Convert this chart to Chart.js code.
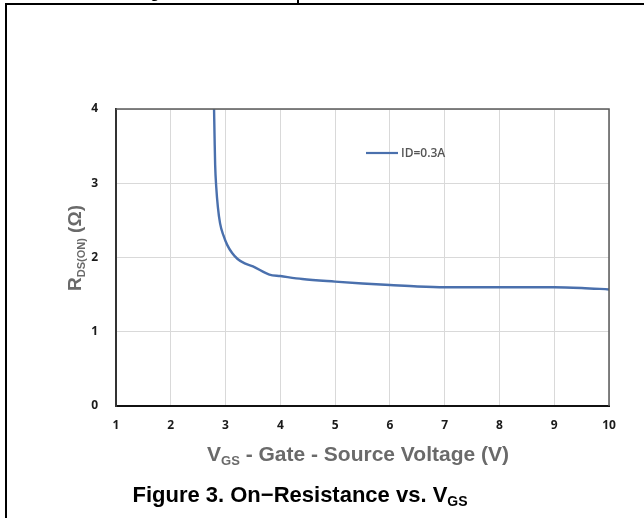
<!DOCTYPE html>
<html>
<head>
<meta charset="utf-8">
<script src="https://cdn.jsdelivr.net/npm/chart.js@4.4.1/dist/chart.umd.min.js"></script>
<style>
  html, body { margin: 0; padding: 0; background: #fff; }
  #wrap { position: relative; width: 644px; height: 518px; }
</style>
</head>
<body>
<div id="wrap"><canvas id="c" width="644" height="518"></canvas></div>
<script>
// On-resistance curve, ID = 0.3 A
const seriesLabel = 'ID=0.3A';
const vgs = [2.79, 2.80, 2.81, 2.83, 2.86, 2.90, 2.96, 3.03, 3.12, 3.22, 3.35, 3.5, 3.8, 4.0, 4.4, 5.0, 5.5, 6.0, 6.5, 7.0, 8.0, 9.0, 9.5, 10.0];
const rdsOn = [4.0, 3.6, 3.25, 2.95, 2.68, 2.46, 2.3, 2.17, 2.06, 1.98, 1.92, 1.88, 1.77, 1.75, 1.71, 1.675, 1.65, 1.63, 1.61, 1.60, 1.60, 1.60, 1.59, 1.57];
const xTicks = [1, 2, 3, 4, 5, 6, 7, 8, 9, 10];
const yTicks = [0, 1, 2, 3, 4];

const points = vgs.map((v, i) => ({ x: v, y: rdsOn[i] }));

const LINE_COLOR = '#4a70ad';

// Page frame, axis titles, caption and legend drawn around the plot
const decor = {
  id: 'decor',
  beforeDraw(chart) {
    const ctx = chart.ctx;
    ctx.save();
    ctx.fillStyle = '#fff';
    ctx.fillRect(0, 0, chart.width, chart.height);
    ctx.restore();
  },
  afterDraw(chart) {
    const ctx = chart.ctx;
    const a = chart.chartArea;
    ctx.save();

    // frame lines of the page
    ctx.fillStyle = '#000';
    ctx.fillRect(5, 3, 639, 2);
    ctx.fillRect(5, 3, 2, 515);
    ctx.fillRect(297, 0, 2, 4);
    ctx.font = 'bold 16px "Liberation Sans", Arial, sans-serif';
    ctx.textBaseline = 'alphabetic';
    ctx.fillText('g', 150, -2);

    // top & right plot border
    ctx.strokeStyle = '#5a5a5a';
    ctx.lineWidth = 1.5;
    ctx.beginPath();
    ctx.moveTo(a.left, a.top);
    ctx.lineTo(a.right, a.top);
    ctx.lineTo(a.right, a.bottom);
    ctx.stroke();

    // legend inside the plot
    const lx = 366, ly = 153;
    ctx.strokeStyle = LINE_COLOR;
    ctx.lineWidth = 2.2;
    ctx.beginPath();
    ctx.moveTo(lx, ly);
    ctx.lineTo(lx + 32, ly);
    ctx.stroke();
    ctx.fillStyle = '#555';
    ctx.font = '600 12px "Open Sans", sans-serif';
    ctx.textBaseline = 'middle';
    ctx.textAlign = 'left';
    ctx.fillText(seriesLabel, lx + 35, ly + 1);

    // x axis title with subscript
    const gray = '#6a6a6a';
    ctx.fillStyle = gray;
    ctx.textBaseline = 'alphabetic';
    const big = 'bold 21px "Liberation Sans", Arial, sans-serif';
    const small = 'bold 13px "Liberation Sans", Arial, sans-serif';
    const p1 = 'V', p2 = 'GS', p3 = ' - Gate - Source Voltage (V)';
    ctx.font = big; const w1 = ctx.measureText(p1).width; const w3 = ctx.measureText(p3).width;
    ctx.font = small; const w2 = ctx.measureText(p2).width;
    let x0 = 358 - (w1 + w2 + w3) / 2;
    const by = 461;
    ctx.font = big; ctx.fillText(p1, x0, by);
    ctx.font = small; ctx.fillText(p2, x0 + w1, by + 4);
    ctx.font = big; ctx.fillText(p3, x0 + w1 + w2, by);

    // y axis title, rotated, with subscript
    ctx.save();
    ctx.translate(81, 248);
    ctx.rotate(-Math.PI / 2);
    const bigY = 'bold 19px "Liberation Sans", Arial, sans-serif';
    const smallY = 'bold 11px "Liberation Sans", Arial, sans-serif';
    const q1 = 'R', q2 = 'DS(ON)', q3 = ' (Ω)';
    ctx.font = bigY; const v1 = ctx.measureText(q1).width; const v3 = ctx.measureText(q3).width;
    ctx.font = smallY; const v2 = ctx.measureText(q2).width;
    let y0 = -(v1 + v2 + v3) / 2;
    ctx.font = bigY; ctx.fillText(q1, y0, 0);
    ctx.font = smallY; ctx.fillText(q2, y0 + v1, 4);
    ctx.font = bigY; ctx.fillText(q3, y0 + v1 + v2, 0);
    ctx.restore();

    // caption
    ctx.fillStyle = '#000';
    const capBig = 'bold 22px "Liberation Sans", Arial, sans-serif';
    const capSmall = 'bold 14px "Liberation Sans", Arial, sans-serif';
    const c1 = 'Figure 3. On\u2212Resistance vs. V', c2 = 'GS';
    ctx.font = capBig; const cw1 = ctx.measureText(c1).width;
    ctx.font = capSmall; const cw2 = ctx.measureText(c2).width;
    const cx0 = 300 - (cw1 + cw2) / 2;
    ctx.font = capBig; ctx.fillText(c1, cx0, 502);
    ctx.font = capSmall; ctx.fillText(c2, cx0 + cw1, 506);

    ctx.restore();
  }
};

new Chart(document.getElementById('c'), {
  type: 'line',
  data: {
    datasets: [{
      label: seriesLabel,
      data: points,
      borderColor: LINE_COLOR,
      borderWidth: 2.4,
      pointRadius: 0,
      cubicInterpolationMode: 'monotone',
      fill: false
    }]
  },
  options: {
    responsive: false,
    animation: false,
    devicePixelRatio: 1,
    layout: { padding: { top: 109, right: 35, left: 0, bottom: 0 } },
    plugins: { legend: { display: false }, tooltip: { enabled: false } },
    scales: {
      x: {
        type: 'linear',
        min: 1, max: 10,
        afterBuildTicks: s => { s.ticks = xTicks.map(v => ({ value: v })); },
        afterFit: s => { s.height = 518 - 406; },
        grid: { color: '#d9d9d9', lineWidth: 1, drawTicks: false },
        border: { color: '#111', width: 2 },
        ticks: { padding: 12, color: '#1a1a1a', font: { family: '"Open Sans", sans-serif', size: 12, weight: 'bold' } }
      },
      y: {
        type: 'linear',
        min: 0, max: 4,
        afterBuildTicks: s => { s.ticks = yTicks.map(v => ({ value: v })); },
        afterFit: s => { s.width = 116; },
        grid: { color: '#d9d9d9', lineWidth: 1, drawTicks: false },
        border: { color: '#333', width: 2 },
        ticks: { padding: 18, color: '#1a1a1a', font: { family: '"Open Sans", sans-serif', size: 12, weight: 'bold' } }
      }
    }
  },
  plugins: [decor]
});
</script>
</body>
</html>
